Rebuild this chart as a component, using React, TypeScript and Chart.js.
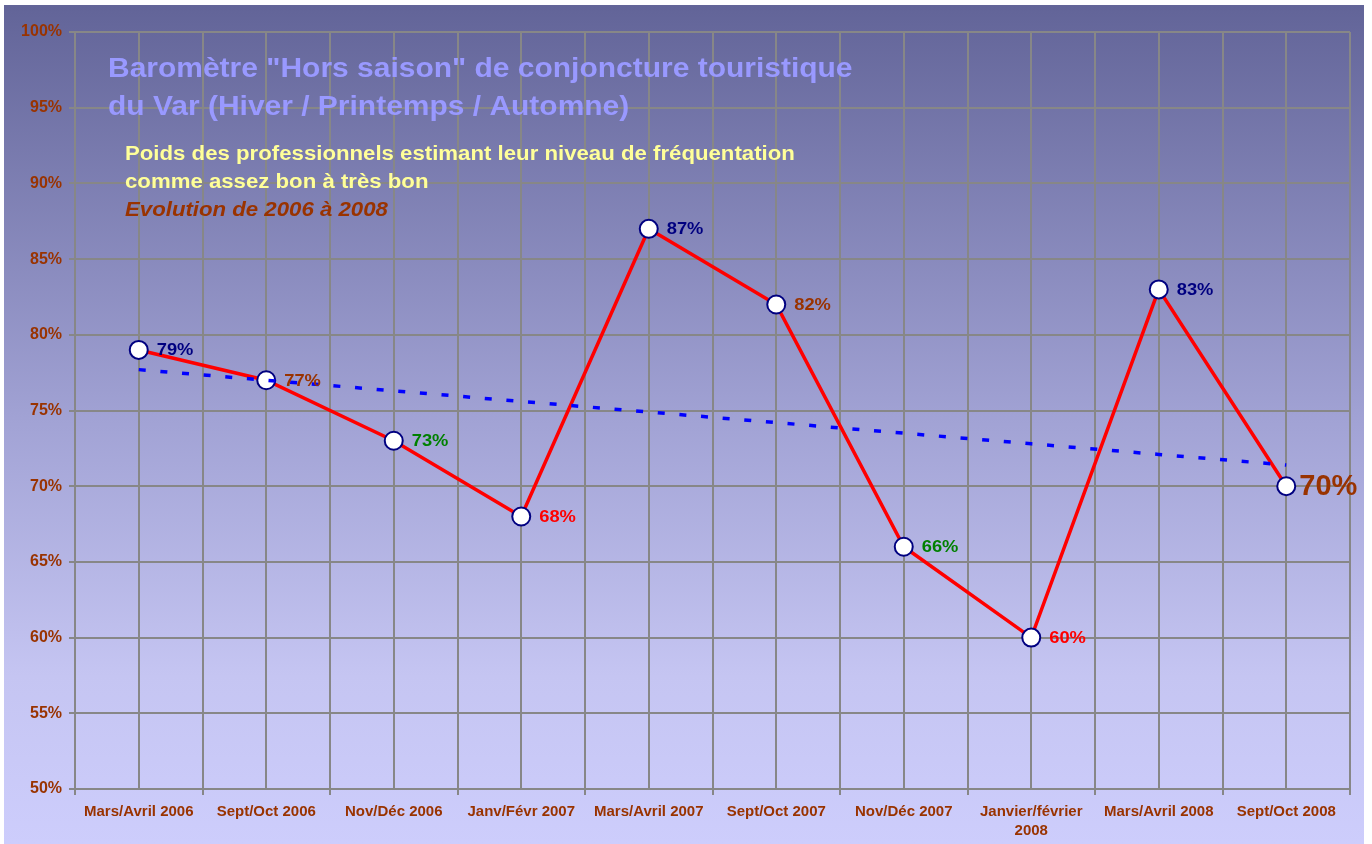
import React, { useEffect, useRef } from 'react';
import { Chart, registerables } from 'chart.js';

Chart.register(...registerables);

const categories = [
  'Mars/Avril 2006',
  'Sept/Oct 2006',
  'Nov/Déc 2006',
  'Janv/Févr 2007',
  'Mars/Avril 2007',
  'Sept/Oct 2007',
  'Nov/Déc 2007',
  'Janvier/février\n2008',
  'Mars/Avril 2008',
  'Sept/Oct 2008',
];
const values = [79, 77, 73, 68, 87, 82, 66, 60, 83, 70];
const trendValues = [77.7, 77.0, 76.3, 75.6, 74.9, 74.2, 73.5, 72.8, 72.1, 71.4];
const labelColors = ['#000080', '#993300', '#008000', '#ff0000', '#000080', '#993300', '#008000', '#ff0000', '#000080', '#993300'];
const yMin = 50;
const yMax = 100;
const yStep = 5;
const titleLines = ['Baromètre "Hors saison" de conjoncture touristique', 'du Var (Hiver / Printemps / Automne)'];
const subtitleLines = ['Poids des professionnels estimant leur niveau de fréquentation', 'comme assez bon à très bon'];
const evolutionLine = 'Evolution de 2006 à 2008';

const FONT = '"Liberation Sans", Arial, sans-serif';
const GRID = '#878787';
const STRETCH = 1.11;

function stretchedText(ctx: any, text: string, x: number, y: number, sx: number) {
  ctx.save();
  ctx.translate(x, y);
  ctx.scale(sx, 1);
  ctx.fillText(text, 0, 0);
  ctx.restore();
}

export default function App() {
  const ref = useRef<HTMLCanvasElement | null>(null);

  useEffect(() => {
    const canvas = ref.current;
    if (!canvas) return;

    const bgPlugin = {
      id: 'bg',
      beforeDraw(chart: any) {
        const ctx = chart.ctx;
        ctx.save();
        ctx.fillStyle = '#ffffff';
        ctx.fillRect(0, 0, chart.width, chart.height);
        const g = ctx.createLinearGradient(0, 5, 0, 844);
        g.addColorStop(0, '#626498');
        g.addColorStop(0.5, '#a2a3d5');
        g.addColorStop(0.8, '#c5c5f2');
        g.addColorStop(1, '#cdcdfc');
        ctx.fillStyle = g;
        ctx.fillRect(4, 5, 1360, 839);
        ctx.restore();
      },
    };

    const textPlugin = {
      id: 'texts',
      beforeDatasetsDraw(chart: any) {
        const ctx = chart.ctx;
        ctx.save();
        ctx.textAlign = 'left';
        ctx.textBaseline = 'alphabetic';
        ctx.font = `bold 27px ${FONT}`;
        ctx.fillStyle = '#9999ff';
        stretchedText(ctx, titleLines[0], 108, 77, STRETCH);
        stretchedText(ctx, titleLines[1], 108, 115, STRETCH);
        ctx.font = `bold 20px ${FONT}`;
        ctx.fillStyle = '#ffff99';
        stretchedText(ctx, subtitleLines[0], 125, 160, STRETCH);
        stretchedText(ctx, subtitleLines[1], 125, 188, STRETCH);
        ctx.font = `italic bold 20px ${FONT}`;
        ctx.fillStyle = '#993300';
        stretchedText(ctx, evolutionLine, 125, 216, STRETCH);
        ctx.restore();
      },
      afterDatasetsDraw(chart: any) {
        const ctx = chart.ctx;
        const meta = chart.getDatasetMeta(1);
        ctx.save();
        ctx.textAlign = 'left';
        ctx.textBaseline = 'middle';
        meta.data.forEach((pt: any, i: number) => {
          const last = i === values.length - 1;
          ctx.fillStyle = labelColors[i];
          if (last) {
            ctx.font = `bold 29px ${FONT}`;
            stretchedText(ctx, values[i] + '%', pt.x + 13, pt.y + 1, 1);
          } else {
            ctx.font = `bold 16.5px ${FONT}`;
            stretchedText(ctx, values[i] + '%', pt.x + 18, pt.y + 1, STRETCH);
          }
        });
        ctx.restore();
      },
    };

    const chart = new Chart(canvas, {
      type: 'line',
      data: {
        datasets: [
          {
            label: 'Tendance',
            data: trendValues.map((v, i) => ({ x: i, y: v })),
            borderColor: '#0000ff',
            borderWidth: 3.5,
            borderDash: [7, 14.7],
            borderCapStyle: 'butt',
            pointRadius: 0,
            fill: false,
            tension: 0,
          },
          {
            label: 'Poids',
            data: values.map((v, i) => ({ x: i, y: v })),
            borderColor: '#ff0000',
            borderWidth: 3.5,
            pointRadius: 9,
            pointBorderWidth: 2,
            pointBorderColor: '#000080',
            pointBackgroundColor: '#ffffff',
            fill: false,
            tension: 0,
          },
        ],
      },
      options: {
        responsive: false,
        animation: false,
        devicePixelRatio: 1,
        layout: { padding: { left: 0, top: 32, right: 22, bottom: 0 } },
        plugins: {
          legend: { display: false },
          tooltip: { enabled: false },
          title: { display: false },
        },
        scales: {
          x: {
            type: 'linear',
            min: -0.5,
            max: categories.length - 0.5,
            afterFit(scale: any) {
              scale.height = 55;
            },
            ticks: {
              stepSize: 0.5,
              maxTicksLimit: 100,
              autoSkip: false,
              maxRotation: 0,
              minRotation: 0,
              padding: 7,
              color: '#993300',
              font: { family: FONT, size: 15, weight: 'bold', lineHeight: 1.3 },
              callback(value: any) {
                const v = Number(value);
                if (Math.abs(v - Math.round(v)) > 1e-6) return '';
                const c = categories[Math.round(v)];
                return c ? c.split('\n') : '';
              },
            },
            grid: {
              color: GRID,
              lineWidth: 2,
              drawTicks: true,
              tickLength: 6,
              tickColor: (ctx: any) => {
                const v = ctx.tick ? ctx.tick.value : 0;
                return Math.abs(v - Math.round(v)) > 1e-6 ? GRID : 'rgba(0,0,0,0)';
              },
            },
            border: { color: GRID, width: 2 },
          },
          y: {
            type: 'linear',
            min: yMin,
            max: yMax,
            afterFit(scale: any) {
              scale.width = 75;
            },
            ticks: {
              stepSize: yStep,
              padding: 7,
              color: '#993300',
              font: { family: FONT, size: 16, weight: 'bold' },
              callback: (v: any) => v + '%',
            },
            grid: {
              color: GRID,
              lineWidth: 2,
              drawTicks: true,
              tickLength: 6,
              tickColor: GRID,
            },
            border: { color: GRID, width: 2 },
          },
        },
      },
      plugins: [bgPlugin, textPlugin],
    } as any);

    return () => chart.destroy();
  }, []);

  return (
    <div style={{ position: 'fixed', left: 0, top: 0, width: 1372, height: 844 }}>
      <canvas ref={ref} width={1372} height={844} style={{ display: 'block' }} />
    </div>
  );
}
